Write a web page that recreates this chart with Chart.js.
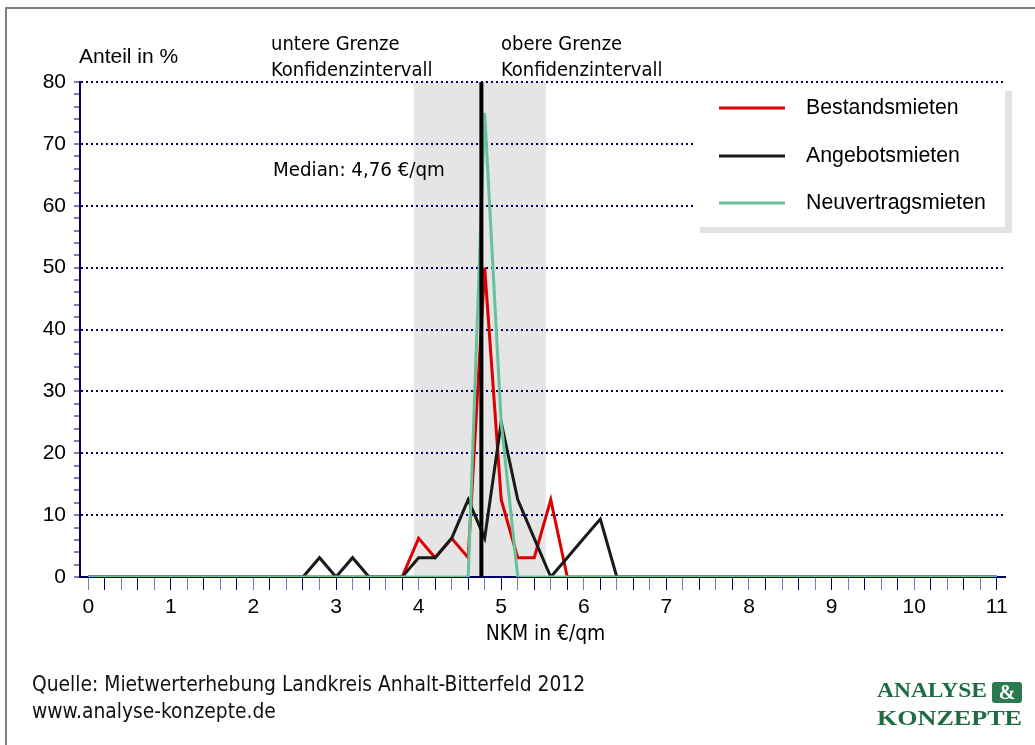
<!DOCTYPE html>
<html><head><meta charset="utf-8">
<script src="https://cdn.jsdelivr.net/npm/chart.js@4/dist/chart.umd.min.js"></script>
<style>html,body{margin:0;padding:0;background:#fff;overflow:hidden}canvas{display:block}</style>
</head><body>
<canvas id="c" width="1035" height="745"></canvas>
<script>
// NKM in €/qm (categories)
const xValues = [0,0.2,0.4,0.6,0.8,1,1.2,1.4,1.6,1.8,2,2.2,2.4,2.6,2.8,3,3.2,3.4,3.6,3.8,4,4.2,4.4,4.6,4.8,5,5.2,5.4,5.6,5.8,6,6.2,6.4,6.6,6.8,7,7.2,7.4,7.6,7.8,8,8.2,8.4,8.6,8.8,9,9.2,9.4,9.6,9.8,10,10.2,10.4,10.6,10.8,11];
// Anteil in %
const bestandsmieten = [0,0,0,0,0,0,0,0,0,0,0,0,0,0,0,0,0,0,0,0,6.25,3.125,6.25,3.125,50,12.5,3.125,3.125,12.5,0,0,0,0,0,0,0,0,0,0,0,0,0,0,0,0,0,0,0,0,0,0,0,0,0,0,0];
const angebotsmieten = [0,0,0,0,0,0,0,0,0,0,0,0,0,0,3.125,0,3.125,0,0,0,3.125,3.125,6.25,12.5,6.25,25,12.5,6.25,0,3.125,6.25,9.375,0,0,0,0,0,0,0,0,0,0,0,0,0,0,0,0,0,0,0,0,0,0,0,0];
const neuvertragsmieten = [0,0,0,0,0,0,0,0,0,0,0,0,0,0,0,0,0,0,0,0,0,0,0,0,75,25,0,0,0,0,0,0,0,0,0,0,0,0,0,0,0,0,0,0,0,0,0,0,0,0,0,0,0,0,0,0];
const seriesNames = ['Bestandsmieten','Angebotsmieten','Neuvertragsmieten'];
const seriesColors = ['#dd0000','#1a1a1a','#66c298'];
const median = 4.76;
const ciLower = 3.94;
const ciUpper = 5.54;
const yMax = 80;

const TAH = "'DejaVu Sans Condensed', 'DejaVu Sans', sans-serif";
const ARI = "'Liberation Sans', Arial, sans-serif";
const NAVY = '#000066';

const toPoints = arr => arr.map((v, i) => ({x: xValues[i], y: v}));

const deco = {
  id: 'deco',
  beforeDraw(chart) {
    const {ctx, chartArea: a, scales: {x}} = chart;
    ctx.save();
    ctx.strokeStyle = '#808080'; ctx.lineWidth = 2;
    ctx.strokeRect(6, 8, 1100, 1000);
    const x1 = x.getPixelForValue(ciLower), x2 = x.getPixelForValue(ciUpper);
    ctx.fillStyle = '#e5e5e5';
    ctx.fillRect(x1, a.top, x2 - x1, a.bottom - a.top);
    ctx.restore();
  },
  afterDatasetsDraw(chart) {
    const {ctx, chartArea: a} = chart;
    ctx.save();
    // legend
    ctx.fillStyle = '#e3e3e3'; ctx.fillRect(700, 91, 312, 142);
    ctx.fillStyle = '#ffffff'; ctx.fillRect(693, 85, 312, 142);
    const ly = [108, 156, 203];
    ctx.font = '21.3px ' + ARI; ctx.textBaseline = 'middle'; ctx.textAlign = 'left';
    seriesNames.forEach((n, i) => {
      ctx.strokeStyle = seriesColors[i]; ctx.lineWidth = 3;
      ctx.beginPath(); ctx.moveTo(719, ly[i]); ctx.lineTo(785, ly[i]); ctx.stroke();
      ctx.fillStyle = '#000'; ctx.fillText(n, 806, ly[i]);
    });
    // texts
    ctx.fillStyle = '#000';
    ctx.font = '21px ' + ARI;
    ctx.fillText('Anteil in %', 79, 57);
    ctx.font = '20px ' + TAH;
    ctx.fillText('untere Grenze', 271, 45);
    ctx.fillText('Konfidenzintervall', 271, 71);
    ctx.fillText('obere Grenze', 501, 45);
    ctx.fillText('Konfidenzintervall', 501, 71);
    ctx.font = '20.3px ' + TAH;
    ctx.fillText('Median: 4,76 €/qm', 273, 171);
    ctx.font = '20.8px ' + TAH;
    ctx.textAlign = 'center';
    ctx.fillText('NKM in €/qm', (a.left + a.right) / 2 + 3, 635);
    ctx.textAlign = 'left';
    ctx.fillStyle = '#111';
    ctx.font = '20.8px ' + TAH;
    ctx.fillText('Quelle: Mietwerterhebung Landkreis Anhalt-Bitterfeld 2012', 32, 686);
    ctx.fillText('www.analyse-konzepte.de', 32, 713);
    // logo
    const green = '#1f6b43';
    const drawFit = (t, x0, y0, w) => {
      const m = ctx.measureText(t).width;
      ctx.save(); ctx.translate(x0, y0); ctx.scale(w / m, 1); ctx.fillText(t, 0, 0); ctx.restore();
    };
    ctx.textBaseline = 'alphabetic';
    ctx.font = 'bold 20px "Liberation Serif", serif';
    ctx.fillStyle = green;
    drawFit('ANALYSE', 877, 697, 110);
    drawFit('KONZEPTE', 877, 725, 145);
    ctx.fillStyle = '#2b7a4f';
    ctx.beginPath(); ctx.roundRect(992, 682, 30, 21, 3); ctx.fill();
    ctx.fillStyle = '#fff'; ctx.textAlign = 'center';
    ctx.fillText('&', 1007, 699);
    ctx.restore();
  }
};

const lineDs = (label, data, color, width, order) => ({
  label, data, borderColor: color, backgroundColor: color, borderWidth: width,
  pointRadius: 0, tension: 0, fill: false, order
});

new Chart(document.getElementById('c'), {
  type: 'line',
  data: {
    datasets: [
      lineDs('Median', [{x: median, y: 0}, {x: median, y: yMax}], '#000000', 4, 0),
      lineDs(seriesNames[2], toPoints(neuvertragsmieten), seriesColors[2], 3, 1),
      lineDs(seriesNames[1], toPoints(angebotsmieten), seriesColors[1], 3, 2),
      lineDs(seriesNames[0], toPoints(bestandsmieten), seriesColors[0], 3, 3)
    ]
  },
  options: {
    responsive: false, animation: false, events: [],
    layout: {padding: {left: 0, right: 30, top: 82, bottom: 128}},
    plugins: {legend: {display: false}, tooltip: {enabled: false}},
    scales: {
      x: {
        type: 'linear', min: -0.1, max: 11.1, bounds: 'data',
        afterBuildTicks: s => { s.ticks = xValues.map(v => ({value: v})); },
        afterFit: s => { s.height = 40; },
        ticks: {autoSkip: false, maxRotation: 0, minRotation: 0, padding: 5, color: '#000',
          font: {family: ARI, size: 21},
          callback: v => Math.abs(v - Math.round(v)) < 1e-6 ? String(Math.round(v)) : ''},
        grid: {drawOnChartArea: false, drawTicks: true, tickLength: 13, tickWidth: 1,
          tickColor: c => (c.index % 2 ? NAVY : '#7a7ab4')},
        border: {display: true, color: NAVY, width: 2}
      },
      y: {
        min: 0, max: yMax,
        afterFit: s => { s.width = 80; },
        ticks: {stepSize: 2, autoSkip: false, padding: 8, color: '#000',
          font: {family: ARI, size: 21},
          callback: v => (v % 10 === 0 ? String(v) : '')},
        grid: {color: c => (c.tick && c.tick.value % 10 === 0 && c.tick.value !== 0 ? NAVY : 'rgba(0,0,0,0)'),
          lineWidth: 2, tickLength: 6, tickWidth: 1, tickColor: NAVY},
        border: {display: true, color: NAVY, width: 2, dash: [2, 3]}
      }
    }
  },
  plugins: [deco]
});
</script>
</body></html>
